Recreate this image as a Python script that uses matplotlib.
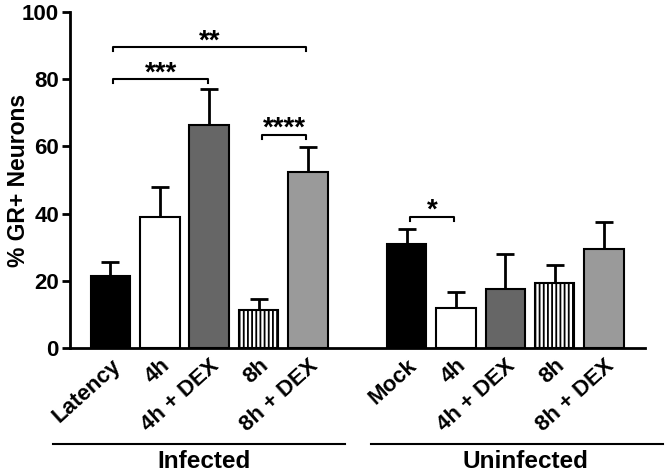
import matplotlib
matplotlib.use("Agg")
import matplotlib.pyplot as plt
from matplotlib.transforms import blended_transform_factory

plt.rcParams['font.family'] = ['Liberation Sans', 'DejaVu Sans']
plt.rcParams['font.weight'] = 'bold'
plt.rcParams['hatch.linewidth'] = 1.3

categories = ["Latency", "4h", "4h + DEX", "8h", "8h + DEX",
              "Mock", "4h", "4h + DEX", "8h", "8h + DEX"]
positions = [0, 1, 2, 3, 4, 6, 7, 8, 9, 10]
values = [21.5, 38.9, 66.5, 11.4, 52.5, 31.0, 11.9, 17.5, 19.3, 29.5]
errors = [4.0, 8.9, 10.5, 3.3, 7.2, 4.5, 4.9, 10.5, 5.4, 8.1]
colors = ["black", "white", "#666666", "white", "#9a9a9a"] * 2
hatches = ["", "", "", "||||", ""] * 2
groups = ["Infected", "Uninfected"]

# significance brackets: (start_pos, end_pos, height, label)
brackets = [(0, 4, 89.5, "**"), (0, 2, 80, "***"), (3, 4, 63.5, "****"), (6, 7, 39, "*")]

fig = plt.figure(figsize=(6.66, 4.73), dpi=100)
ax = fig.add_axes([70/666, 125/473, 575/666, 336/473])

for p, v, e, c, h in zip(positions, values, errors, colors, hatches):
    ax.bar(p, v, width=0.8, color=c, edgecolor="black", linewidth=1.5, hatch=h, zorder=2)
    ax.errorbar(p, v, yerr=[[0], [e]], fmt="none", ecolor="black", elinewidth=2,
                capsize=6.5, capthick=2, zorder=1)

for x1, x2, y, lab in brackets:
    xa, xb = x1 + 0.06, x2 - 0.03
    ax.plot([xa, xa, xb, xb], [y - 1.2, y, y, y - 1.2], color="black", lw=1.5, clip_on=False)
    ax.text((xa + xb) / 2, y - 0.3, lab, ha="center", va="baseline", fontsize=20,
            fontweight="bold")

ax.set_xlim(-0.82, 10.83)
ax.set_ylim(0, 100)
ax.set_yticks([0, 20, 40, 60, 80, 100])
ax.set_yticklabels(["0", "20", "40", "60", "80", "100"], fontsize=16, fontweight="bold")
ax.tick_params(axis="y", width=2, length=6, pad=2)
ax.set_ylabel("% GR+ Neurons", fontsize=16.5, fontweight="bold")
ax.yaxis.set_label_coords(-0.07, 0.5)

ax.set_xticks(positions)
ax.set_xticklabels(categories, rotation=42, ha="right", va="top", rotation_mode="anchor",
                   fontsize=16, fontweight="bold")
ax.tick_params(axis="x", length=0, pad=5)

for s in ["top", "right"]:
    ax.spines[s].set_visible(False)
for s in ["left", "bottom"]:
    ax.spines[s].set_linewidth(2)

trans = blended_transform_factory(ax.transData, fig.transFigure)
line_y = (473 - 444) / 473
ax.plot([-1.165, 4.75], [line_y, line_y], transform=trans, color="black", lw=1.5, clip_on=False)
ax.plot([5.28, 11.2], [line_y, line_y], transform=trans, color="black", lw=1.5, clip_on=False)
ax.text(1.9, (473 - 467.5) / 473, groups[0], transform=trans, ha="center", va="baseline",
        fontsize=17.5, fontweight="bold")
ax.text(8.4, (473 - 467.5) / 473, groups[1], transform=trans, ha="center", va="baseline",
        fontsize=17.5, fontweight="bold")

fig.savefig("out.png", dpi=100)
